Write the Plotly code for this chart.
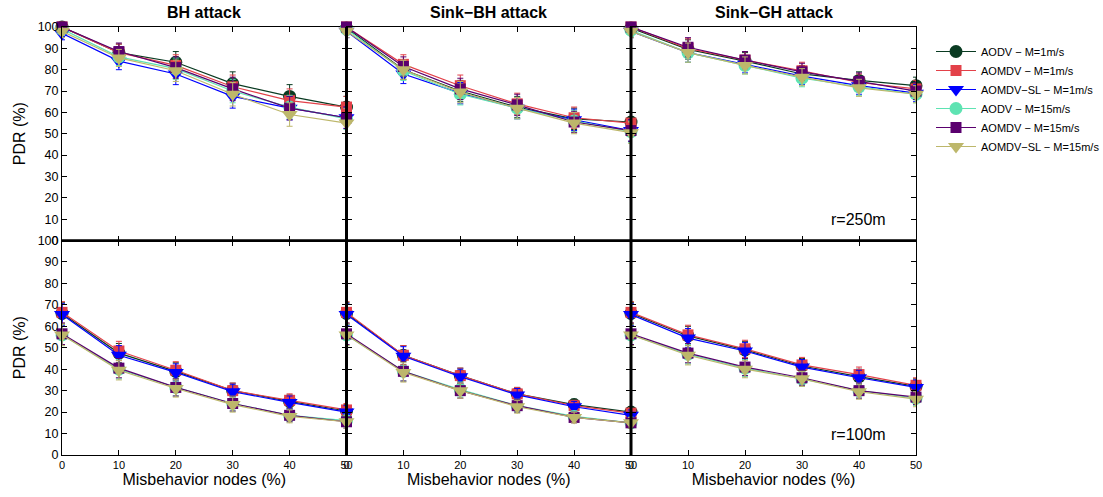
import plotly.graph_objects as go

# ---------------- data ----------------
x_nodes = [0, 10, 20, 30, 40, 50]
x_ticks = [0, 10, 20, 30, 40, 50]
y_ticks = [0, 10, 20, 30, 40, 50, 60, 70, 80, 90, 100]

series_names = ["AODV − M=1m/s", "AOMDV − M=1m/s", "AOMDV−SL − M=1m/s",
                "AODV − M=15m/s", "AOMDV − M=15m/s", "AOMDV−SL − M=15m/s"]
series_colors = ["#0a3b22", "#e34149", "#0000ff", "#5ee3b2", "#5a006e", "#bdb76b"]
series_symbols = ["circle", "square", "triangle-down", "circle", "square", "triangle-down"]
series_sizes = [13, 11, 14, 13, 11, 14]

panel_titles = ["BH attack", "Sink−BH attack", "Sink−GH attack"]
row_labels = ["r=250m", "r=100m"]

# r = 250 m, BH attack
bh250_aodv1 = [100, 88, 83.5, 73.5, 67.5, 62.5]
bh250_aomdv1 = [100, 88, 82, 72, 65.5, 62.5]
bh250_sl1 = [97, 84, 78, 67.5, 62, 57.5]
bh250_aodv15 = [99, 86, 80.5, 70, 62.5, 57]
bh250_aomdv15 = [100, 88.5, 81, 71, 62, 57.5]
bh250_sl15 = [98, 85.5, 79.5, 68.5, 59, 55]
err_bh250 = [3, 4, 5, 5.5, 5.5, 5]

# r = 250 m, Sink-BH attack
sbh250_aodv1 = [99.5, 80, 70, 62.5, 57, 55.5]
sbh250_aomdv1 = [100, 82.5, 72.5, 64, 57.5, 55]
sbh250_sl1 = [98, 78, 69, 62, 56.5, 51.5]
sbh250_aodv15 = [99, 79.5, 68.5, 62, 56, 51]
sbh250_aomdv15 = [100, 81.5, 71, 63.5, 55.5, 51.5]
sbh250_sl15 = [98, 80, 69.5, 62, 55, 50.5]
err_sbh250 = [3, 4.5, 5, 5, 5, 5]

# r = 250 m, Sink-GH attack
sgh250_aodv1 = [99.5, 89.5, 84, 78, 75, 72.5]
sgh250_aomdv1 = [100, 90, 84.5, 79.5, 74, 71]
sgh250_sl1 = [98, 88, 82.5, 77, 72.5, 69]
sgh250_aodv15 = [98.5, 88, 82, 76, 72, 68.5]
sgh250_aomdv15 = [100, 90.5, 84.5, 79, 74.5, 70]
sgh250_sl15 = [98, 88, 82, 76.5, 71.5, 68.5]
err_sgh250 = [3, 4.5, 4, 4, 4, 4]

# r = 100 m, BH attack
bh100_aodv1 = [66, 47.5, 39, 30, 25, 20.5]
bh100_aomdv1 = [66.5, 48.5, 39.5, 30, 25.5, 21]
bh100_sl1 = [65.5, 46.5, 38.5, 29.5, 24.5, 20]
bh100_aodv15 = [56, 40, 31.5, 24, 18.5, 16]
bh100_aomdv15 = [56.5, 40.5, 31.5, 24, 18.5, 15.5]
bh100_sl15 = [56, 39.5, 31, 23.5, 18, 15.5]
err_bh100 = [5, 4.5, 4, 3.5, 3, 3]

# r = 100 m, Sink-BH attack
sbh100_aodv1 = [66, 46.5, 37, 28.5, 23.5, 20]
sbh100_aomdv1 = [66.5, 46.5, 37, 28.5, 23, 19.5]
sbh100_sl1 = [65.5, 46, 36.5, 28, 22.5, 18.5]
sbh100_aodv15 = [56, 39, 30.5, 23, 18, 15]
sbh100_aomdv15 = [56.5, 39, 30, 23, 17.5, 15]
sbh100_sl15 = [56, 38.5, 30, 22.5, 17.5, 15]
err_sbh100 = [5, 4.5, 3.5, 3, 2.5, 2.5]

# r = 100 m, Sink-GH attack
sgh100_aodv1 = [66, 55.5, 49, 41.5, 36.5, 32]
sgh100_aomdv1 = [66.5, 56, 49.5, 42, 37.5, 32.5]
sgh100_sl1 = [65.5, 54.5, 48.5, 41, 36, 31.5]
sgh100_aodv15 = [56, 47, 40.5, 35.5, 30, 26.5]
sgh100_aomdv15 = [56.5, 47.5, 41, 36, 30, 27]
sgh100_sl15 = [56, 46.5, 40, 35.5, 29.5, 26]
err_sgh100 = [5, 4.5, 4, 3.5, 3.5, 3.5]

panels = [
    ([bh250_aodv1, bh250_aomdv1, bh250_sl1, bh250_aodv15, bh250_aomdv15, bh250_sl15], err_bh250),
    ([sbh250_aodv1, sbh250_aomdv1, sbh250_sl1, sbh250_aodv15, sbh250_aomdv15, sbh250_sl15], err_sbh250),
    ([sgh250_aodv1, sgh250_aomdv1, sgh250_sl1, sgh250_aodv15, sgh250_aomdv15, sgh250_sl15], err_sgh250),
    ([bh100_aodv1, bh100_aomdv1, bh100_sl1, bh100_aodv15, bh100_aomdv15, bh100_sl15], err_bh100),
    ([sbh100_aodv1, sbh100_aomdv1, sbh100_sl1, sbh100_aodv15, sbh100_aomdv15, sbh100_sl15], err_sbh100),
    ([sgh100_aodv1, sgh100_aomdv1, sgh100_sl1, sgh100_aodv15, sgh100_aomdv15, sgh100_sl15], err_sgh100),
]

# ---------------- layout geometry ----------------
W, H = 1103, 497
col_px = [(62, 346.5), (346.5, 631), (631, 916)]
row_px = [(27, 240.5), (240.5, 455)]
FONT = "Liberation Sans, Arial, Helvetica, sans-serif"

fig = go.Figure()

layout = dict(
    width=W, height=H,
    margin=dict(l=0, r=0, t=0, b=0, autoexpand=False),
    paper_bgcolor="white", plot_bgcolor="white",
    font=dict(family=FONT, color="black", size=12),
    showlegend=True,
    legend=dict(x=931 / W, y=1 - 37 / H, xanchor="left", yanchor="top",
                font=dict(size=11, family=FONT), tracegroupgap=0,
                bgcolor="rgba(0,0,0,0)", itemwidth=40),
)

for p, (series_list, err) in enumerate(panels):
    r, c = divmod(p, 3)
    idx = p + 1
    xa = "x" if idx == 1 else f"x{idx}"
    ya = "y" if idx == 1 else f"y{idx}"
    for s, vals in enumerate(series_list):
        fig.add_trace(go.Scatter(
            x=x_nodes, y=vals, xaxis=xa, yaxis=ya,
            mode="lines+markers",
            name=series_names[s], legendgroup=series_names[s],
            showlegend=(p == 0),
            line=dict(color=series_colors[s], width=1.2),
            marker=dict(color=series_colors[s], symbol=series_symbols[s],
                        size=series_sizes[s], line=dict(width=0)),
            error_y=dict(type="data", array=err, visible=True,
                         color=series_colors[s], thickness=1, width=3),
            cliponaxis=False,
        ))
    x0, x1 = col_px[c]
    y0, y1 = row_px[r]
    xkey = "xaxis" if idx == 1 else f"xaxis{idx}"
    ykey = "yaxis" if idx == 1 else f"yaxis{idx}"
    layout[xkey] = dict(
        domain=[x0 / W, x1 / W], range=[0, 50], anchor=ya,
        tickvals=x_ticks, ticks="inside", ticklen=5, tickcolor="black",
        showticklabels=(r == 1), tickfont=dict(size=11),
        showline=True, linecolor="black", linewidth=1, mirror="allticks",
        showgrid=False, zeroline=False, fixedrange=True, automargin=False,
        title=dict(text="Misbehavior nodes (%)" if r == 1 else "",
                   font=dict(size=16), standoff=2),
    )
    layout[ykey] = dict(
        domain=[1 - y1 / H, 1 - y0 / H], range=[0, 100], anchor=xa,
        tickvals=y_ticks, ticks="inside", ticklen=5, tickcolor="black",
        showticklabels=(c == 0), tickfont=dict(size=12.5),
        showline=True, linecolor="black", linewidth=1, mirror="allticks",
        showgrid=False, zeroline=False, fixedrange=True, automargin=False,
        title=dict(text="PDR (%)" if c == 0 else "", font=dict(size=16), standoff=8),
    )

fig.update_layout(**layout)

annotations = []
for c, t in enumerate(panel_titles):
    xc = (col_px[c][0] + col_px[c][1]) / 2
    annotations.append(dict(text=f"<b>{t}</b>", x=xc / W, y=1 - 13 / H,
                            xref="paper", yref="paper", showarrow=False,
                            xanchor="center", yanchor="middle",
                            font=dict(size=16, family=FONT)))
for r, t in enumerate(row_labels):
    annotations.append(dict(text=t, x=888 / W, y=1 - (row_px[r][1] - 21) / H,
                            xref="paper", yref="paper", showarrow=False,
                            xanchor="right", yanchor="middle",
                            font=dict(size=16, family=FONT)))
fig.update_layout(annotations=annotations)

# thick internal frame lines where panels meet
shapes = []
for xb in (col_px[0][1], col_px[1][1]):
    shapes.append(dict(type="line", xref="paper", yref="paper",
                       x0=xb / W, x1=xb / W, y0=1 - 455 / H, y1=1 - 27 / H,
                       line=dict(color="black", width=3)))
shapes.append(dict(type="line", xref="paper", yref="paper",
                   x0=62 / W, x1=916 / W, y0=1 - 240.5 / H, y1=1 - 240.5 / H,
                   line=dict(color="black", width=2.5)))
fig.update_layout(shapes=shapes)

fig.write_html("out.html")
